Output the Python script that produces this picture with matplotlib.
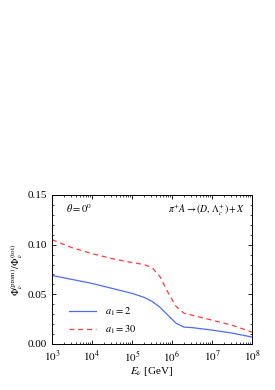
import numpy as np
import matplotlib
matplotlib.use("Agg")
import matplotlib.pyplot as plt

plt.rcParams['font.family'] = ['Liberation Serif', 'DejaVu Serif']
plt.rcParams['mathtext.fontset'] = 'stix'
plt.rcParams['font.size'] = 7

# log10(E_nu / GeV)
logE_a2 = [3.0, 3.5, 4.0, 4.5, 5.0, 5.3, 5.5, 5.7, 5.9, 6.1, 6.3, 6.5, 7.0, 7.5, 8.0]
ratio_a2 = [0.069, 0.065, 0.061, 0.056, 0.051, 0.047, 0.043, 0.037, 0.029, 0.021,
            0.017, 0.0165, 0.014, 0.011, 0.007]
logE_a30 = [3.0, 3.5, 4.0, 4.5, 5.0, 5.3, 5.5, 5.7, 5.9, 6.1, 6.3, 6.5, 7.0, 7.5, 8.0]
ratio_a30 = [0.105, 0.097, 0.091, 0.086, 0.082, 0.080, 0.077, 0.068, 0.052, 0.038,
             0.031, 0.029, 0.024, 0.019, 0.012]
xtick_exp = [3, 4, 5, 6, 7, 8]

fig = plt.figure(figsize=(2.75, 3.9), dpi=100)
ax = fig.add_axes([0.189, 0.118, 0.727, 0.382])

ax.plot(10 ** np.array(logE_a2), ratio_a2, color='#4d6cff', lw=0.9, label=r'$a_1 = 2$')
ax.plot(10 ** np.array(logE_a30), ratio_a30, color='#ff3b3b', lw=0.9, ls=(0, (4, 3)),
        label=r'$a_1 = 30$')

ax.set_xscale('log')
ax.set_xlim(1e3, 1e8)
ax.set_xticks([10.0 ** e for e in xtick_exp])
ax.set_xticklabels([r'$10^{%d}$' % e for e in xtick_exp])
ax.xaxis.set_minor_locator(matplotlib.ticker.LogLocator(base=10, subs=np.arange(2, 10), numticks=20))
ax.xaxis.set_minor_formatter(matplotlib.ticker.NullFormatter())
ax.set_ylim(0, 0.15)
ax.set_yticks([0, 0.05, 0.10, 0.15])
ax.set_yticklabels(['0.00', '0.05', '0.10', '0.15'])
ax.yaxis.set_minor_locator(matplotlib.ticker.MultipleLocator(0.01))
ax.tick_params(which='both', direction='in', top=True, right=True, labelsize=8)
ax.tick_params(which='major', length=3, width=0.6)
ax.tick_params(which='minor', length=1.5, width=0.5)
for s in ax.spines.values():
    s.set_linewidth(0.7)

ax.set_xlabel(r'$E_\nu$ [GeV]', fontsize=8, labelpad=1)
ax.set_ylabel(r'$\Phi_\nu^{(\rm prom)}/\,\Phi_\nu^{(\rm tot)}$', fontsize=7, labelpad=2)

ax.text(0.07, 0.88, r'$\theta = 0^0$', transform=ax.transAxes, fontsize=7.5)
ax.text(0.58, 0.88, r'$\pi^{+}A \rightarrow (D,\,\Lambda_c^{+}) + X$', transform=ax.transAxes,
        fontsize=7)

ax.legend(loc='lower left', bbox_to_anchor=(0.04, -0.01), frameon=False, fontsize=7.5,
          handlelength=2.6, labelspacing=0.5)

fig.savefig('out.png', dpi=100)
